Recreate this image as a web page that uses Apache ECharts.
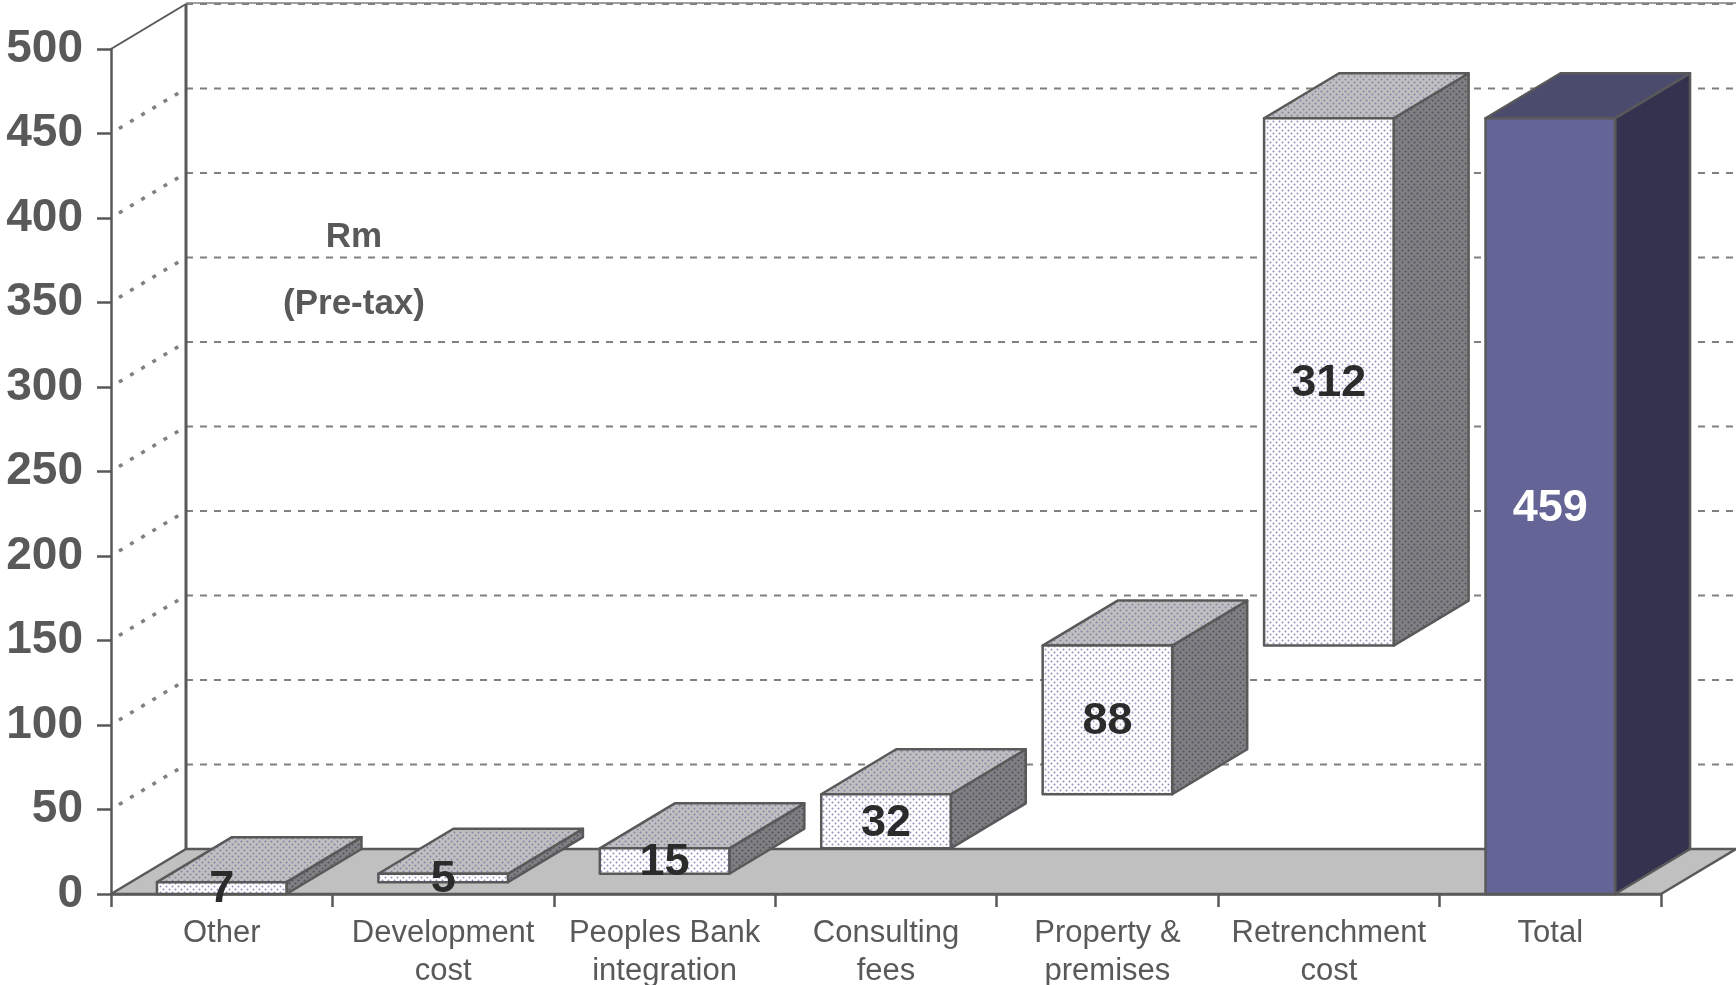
<!DOCTYPE html>
<html>
<head>
<meta charset="utf-8">
<script src="https://cdn.jsdelivr.net/npm/echarts@6/dist/echarts.min.js"></script>
<style>
  html, body { margin: 0; padding: 0; background: #ffffff; }
  #chart { width: 1736px; height: 985px; }
</style>
</head>
<body>
<div id="chart"></div>
<script>
// Restructuring charges, Rm (pre-tax)
const categories = ['Other', 'Development\ncost', 'Peoples Bank\nintegration', 'Consulting\nfees', 'Property &\npremises', 'Retrenchment\ncost', 'Total'];
const values = [7, 5, 15, 32, 88, 312, 459];
const kinds = ['step', 'step', 'step', 'step', 'step', 'step', 'total'];
const yTicks = [0, 50, 100, 150, 200, 250, 300, 350, 400, 450, 500];

// Floating base of each step bar = running total of the previous steps
const bases = [];
let running = 0;
values.forEach((v, i) => {
  if (kinds[i] === 'total') { bases.push(0); }
  else { bases.push(running); running += v; }
});

// 3D look: depth offset of the walls and bar tops, in pixels
const DX = 75;
const DY = -45;
const BAR_RATIO = 0.585;
const FONT = '"Liberation Sans", Arial, Helvetica, sans-serif';
const EDGE = '#595959';
const TEXT = '#595959';

function dotPattern(bg, dot) {
  const c = document.createElement('canvas');
  c.width = 6; c.height = 6;
  const g = c.getContext('2d');
  g.fillStyle = bg;
  g.fillRect(0, 0, 6, 6);
  g.fillStyle = dot;
  g.beginPath(); g.arc(1.5, 1.5, 1.0, 0, Math.PI * 2); g.fill();
  g.beginPath(); g.arc(4.5, 4.5, 1.0, 0, Math.PI * 2); g.fill();
  return { image: c, repeat: 'repeat' };
}

const stepFront = dotPattern('#ffffff', '#9090bc');
const stepTop = dotPattern('#c0c0c0', '#8282a6');
const stepSide = dotPattern('#808080', '#50506a');
const totalFront = '#646496';
const totalTop = '#4b4b6e';
const totalSide = '#33334f';

function renderFrame(params, api) {
  const cs = params.coordSys;
  const x0 = cs.x, x1 = cs.x + cs.width;
  const y0 = api.coord([0, yTicks[0]])[1];
  const yTop = api.coord([0, yTicks[yTicks.length - 1]])[1];
  const children = [];
  // back wall grid
  yTicks.forEach(v => {
    const y = api.coord([0, v])[1];
    children.push({
      type: 'line',
      shape: { x1: x0 + DX, y1: y + DY, x2: x1 + DX + 40, y2: y + DY },
      style: { stroke: '#808080', lineWidth: 2, lineDash: [7, 7] }
    });
  });
  // side wall grid
  yTicks.forEach(v => {
    if (v === yTicks[0] || v === yTicks[yTicks.length - 1]) return;
    const y = api.coord([0, v])[1];
    children.push({
      type: 'line',
      shape: { x1: x0 + 8, y1: y - 5, x2: x0 + DX, y2: y + DY },
      style: { stroke: '#808080', lineWidth: 3.5, lineDash: [4, 9] }
    });
  });
  // top edges of the walls
  children.push({
    type: 'line',
    shape: { x1: x0 + DX, y1: yTop + DY - 1, x2: x1 + DX + 40, y2: yTop + DY - 1 },
    style: { stroke: '#808080', lineWidth: 1.5 }
  });
  children.push({
    type: 'line',
    shape: { x1: x0, y1: yTop, x2: x0 + DX, y2: yTop + DY },
    style: { stroke: EDGE, lineWidth: 2 }
  });
  // floor
  children.push({
    type: 'polygon',
    shape: { points: [[x0, y0], [x1, y0], [x1 + DX, y0 + DY], [x0 + DX, y0 + DY]] },
    style: { fill: '#c0c0c0', stroke: EDGE, lineWidth: 2.5, lineJoin: 'round' }
  });
  // back wall corner edge
  children.push({
    type: 'line',
    shape: { x1: x0 + DX, y1: y0 + DY, x2: x0 + DX, y2: yTop + DY },
    style: { stroke: EDGE, lineWidth: 3 }
  });
  return { type: 'group', children: children };
}

function renderBar(params, api) {
  const i = api.value(0);
  const b = api.value(1);
  const v = api.value(2);
  const isTotal = kinds[params.dataIndex] === 'total';
  const pBot = api.coord([i, b]);
  const pTop = api.coord([i, b + v]);
  const w = api.size([1, 0])[0] * BAR_RATIO;
  const xl = pBot[0] - w / 2, xr = pBot[0] + w / 2;
  const yb = pBot[1], yt = pTop[1];
  const edge = { stroke: EDGE, lineWidth: 2.5, lineJoin: 'round' };
  return {
    type: 'group',
    children: [
      {
        type: 'polygon',
        shape: { points: [[xr, yt], [xr + DX, yt + DY], [xr + DX, yb + DY], [xr, yb]] },
        style: Object.assign({ fill: isTotal ? totalSide : stepSide }, edge)
      },
      {
        type: 'polygon',
        shape: { points: [[xl, yt], [xl + DX, yt + DY], [xr + DX, yt + DY], [xr, yt]] },
        style: Object.assign({ fill: isTotal ? totalTop : stepTop }, edge)
      },
      {
        type: 'rect',
        shape: { x: xl, y: yt, width: w, height: yb - yt },
        style: Object.assign({ fill: isTotal ? totalFront : stepFront }, edge)
      },
      {
        type: 'text',
        z2: 10,
        style: {
          text: String(v),
          x: pBot[0],
          y: (yb + yt) / 2 + 2,
          align: 'center',
          verticalAlign: 'middle',
          font: 'bold 45px ' + FONT,
          fill: isTotal ? '#ffffff' : '#2b2b2b'
        }
      }
    ]
  };
}

const chart = echarts.init(document.getElementById('chart'), null, { renderer: 'canvas' });

chart.setOption({
  backgroundColor: '#ffffff',
  animation: false,
  grid: { left: 111, right: 75, top: 49, bottom: 91, outerBoundsMode: 'none', containLabel: false },
  xAxis: {
    type: 'category',
    data: categories,
    boundaryGap: true,
    axisLine: { show: true, lineStyle: { color: EDGE, width: 2.5 } },
    axisTick: { show: true, alignWithLabel: false, length: 13, lineStyle: { color: EDGE, width: 2.5 } },
    axisLabel: {
      interval: 0,
      margin: 20,
      color: TEXT,
      fontFamily: FONT,
      fontSize: 31,
      lineHeight: 38
    },
    splitLine: { show: false }
  },
  yAxis: {
    type: 'value',
    min: 0,
    max: 500,
    interval: 50,
    axisLine: { show: true, lineStyle: { color: EDGE, width: 2.5 } },
    axisTick: { show: true, length: 14, lineStyle: { color: EDGE, width: 2.5 } },
    axisLabel: {
      margin: 28,
      color: TEXT,
      fontFamily: FONT,
      fontSize: 46,
      fontWeight: 'bold'
    },
    splitLine: { show: false }
  },
  graphic: [
    {
      type: 'text', x: 354, y: 237,
      style: { text: 'Rm', align: 'center', verticalAlign: 'middle', textAlign: 'center', textVerticalAlign: 'middle', font: 'bold 35px ' + FONT, fill: TEXT }
    },
    {
      type: 'text', x: 354, y: 304,
      style: { text: '(Pre-tax)', align: 'center', verticalAlign: 'middle', textAlign: 'center', textVerticalAlign: 'middle', font: 'bold 35px ' + FONT, fill: TEXT }
    }
  ],
  series: [
    {
      type: 'custom',
      z: 1,
      silent: true,
      clip: false,
      data: [[0, 0]],
      renderItem: renderFrame
    },
    {
      type: 'custom',
      z: 3,
      silent: true,
      clip: false,
      data: values.map((v, i) => [i, bases[i], v]),
      renderItem: renderBar
    }
  ]
});
</script>
</body>
</html>
